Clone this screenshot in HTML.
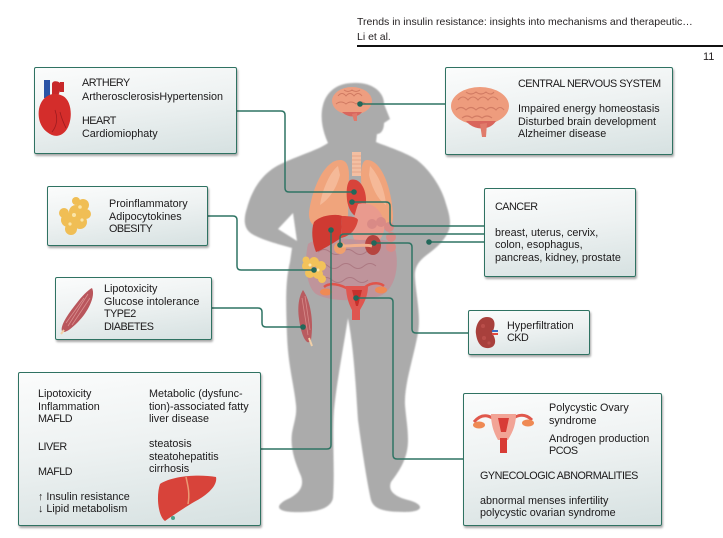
<!DOCTYPE html>
<html><head><meta charset="utf-8">
<style>
html,body{margin:0;padding:0;background:#fff;}
body{width:723px;height:538px;position:relative;overflow:hidden;font-family:"Liberation Sans",Arial,sans-serif;color:#222;}
.box{position:absolute;border:1.5px solid #2f7262;border-radius:2px;background:linear-gradient(172deg,#fbfcfc 0%,#eef2f2 45%,#d6e1e1 100%);box-shadow:1px 2px 2px rgba(0,0,0,0.35);box-sizing:border-box;z-index:2;}
.t{position:absolute;font-size:10.8px;line-height:14px;white-space:nowrap;z-index:4;color:#1c1a1b;}
.u{letter-spacing:-0.5px;}
.h{position:absolute;font-size:10.5px;line-height:12px;white-space:nowrap;color:#231f20;}
svg{position:absolute;left:0;top:0;}
</style></head><body>

<div class="h" style="left:357px;top:16px;">Trends in insulin resistance: insights into mechanisms and therapeutic…</div>
<div class="h" style="left:357px;top:31px;">Li et al.</div>
<div style="position:absolute;left:357px;top:45px;width:366px;height:2px;background:#111;"></div>
<div class="h" style="left:703px;top:51px;font-size:11px;">11</div>

<!-- layer 1: silhouette, organs, connectors -->
<svg width="723" height="538" style="z-index:1">
<defs><filter id="bl"><feGaussianBlur stdDeviation="0.7"/></filter></defs>
<path filter="url(#bl)" fill="#ababab" d="M353 83 C371 82 384 91 384 104 L390 119 L384 123 C384 130 381 134 377 134 L376 142 C385 146 405 152 417 160 C430 170 442 188 446 204 C450 216 452 226 447 234 C443 242 436 248 428 254 C420 260 414 266 415 278 C416 295 421 315 418 333 C413 360 404 385 405 405 C406 418 408 428 408 440 C408 458 400 470 391 482 C388 490 393 496 408 500 C424 504 425 512 405 512 C386 512 374 510 371 500 C367 482 362 450 358 420 C356 390 354 350 348 318 C343 350 337 380 334 410 C332 440 335 470 333 498 C331 508 318 513 292 512 C274 511 276 504 290 498 C301 492 304 485 301 476 C295 462 290 448 292 433 C294 422 297 415 296 405 C294 385 288 365 287 335 C286 305 285 282 290 262 L292 248 C278 244 262 240 252 234 C244 229 243 220 247 208 C252 190 262 172 283 163 C300 155 318 150 328 143 C322 130 320 116 323 105 C327 90 339 83 353 83 Z"/>
<path fill="#ffffff" d="M278 229 L293 213 L297 241 Z" filter="url(#bl)"/>

<!-- brain in head -->
<g>
<ellipse cx="352" cy="101" rx="20" ry="14" fill="#ee9e80"/>
<path d="M338 96 q4 -5 8 0 q4 -5 8 0 q4 -5 8 0 M336 104 q5 -4 10 0 q5 -4 10 0 q5 -4 10 0 M344 90 q4 3 8 0 q4 3 8 0" stroke="#d07a62" stroke-width="1" fill="none"/>
<path d="M342 112 C348 118 358 118 362 112 Z" fill="#d9675e"/>
<path d="M352 114 L354 121 L357 121 L357 113 Z" fill="#e0796b"/>
</g>

<!-- lungs & trachea -->
<rect x="352" y="152" width="9" height="24" fill="#f3bfa2"/>
<path d="M352 156 h9 M352 160 h9 M352 164 h9 M352 168 h9 M352 172 h9" stroke="#e09c80" stroke-width="0.8"/>
<path fill="#f0a47c" d="M340 160 C326 160 313 184 309 212 C308 226 318 232 334 226 L348 216 L349 176 C349 165 346 160 340 160 Z"/>
<path fill="#f7c2a4" d="M338 166 C330 172 322 190 320 205 C328 200 336 190 340 175 Z" opacity="0.7"/>
<path fill="#f0a47c" d="M367 160 C381 160 391 186 393 214 C394 228 386 232 372 226 L362 216 L361 176 C361 166 363 160 367 160 Z"/>
<path fill="#f7c2a4" d="M370 166 C378 174 385 190 386 205 C378 200 372 188 369 175 Z" opacity="0.7"/>
<!-- heart -->
<path fill="#d8433a" d="M350 180 C362 176 370 196 364 212 C358 222 349 214 347 200 C346 190 347 183 350 180 Z"/>
<!-- stomach -->
<path fill="#e99a8e" d="M358 204 C372 200 386 212 384 230 C382 244 368 248 356 242 C350 236 352 222 358 204 Z"/>
<!-- intestines -->
<path fill="#c28f98" opacity="0.85" d="M308 244 C318 236 340 238 360 240 C378 240 392 236 396 252 C399 270 394 290 380 296 C360 302 330 302 316 294 C306 286 304 262 308 244 Z"/>
<path d="M318 252 q6 -5 12 0 q6 5 12 0 q6 -5 12 0 q6 5 12 0 q6 -5 12 0 M316 266 q6 -5 12 0 q6 5 12 0 q6 -5 12 0 q6 5 12 0 q6 -5 12 0 M320 280 q6 -5 12 0 q6 5 12 0 q6 -5 12 0 q6 5 12 0" stroke="#a8727c" stroke-width="1" fill="none" opacity="0.8"/>
<!-- colon bumps -->
<g fill="#d98a86"><circle cx="372" cy="224" r="5"/><circle cx="381" cy="222" r="5"/><circle cx="389" cy="227" r="5"/><circle cx="391" cy="237" r="5"/><circle cx="391" cy="247" r="5"/></g>
<!-- kidney -->
<ellipse cx="373" cy="245" rx="8" ry="10" fill="#b6443f"/>
<!-- liver -->
<path fill="#cf3a32" d="M314 222 C322 214 338 214 342 216 L341 238 C332 244 322 250 316 252 C312 242 311 230 314 222 Z"/>
<path fill="#d8463b" d="M342 216 C350 216 357 217 358 220 C356 230 350 236 341 238 Z"/>
<!-- gallbladder/pancreas -->
<ellipse cx="340" cy="248" rx="6" ry="6" fill="#f0a06c"/>
<path d="M342 246 C355 246 365 244 372 246" stroke="#f2b08c" stroke-width="3" fill="none"/>
<!-- fat -->
<g fill="#f2c25a"><circle cx="307" cy="266" r="5"/><circle cx="314" cy="262" r="5"/><circle cx="321" cy="266" r="5"/><circle cx="310" cy="273" r="5"/><circle cx="318" cy="274" r="5"/><circle cx="322" cy="279" r="4"/><circle cx="306" cy="260" r="3.5"/></g>
<g fill="#fbe6b0"><circle cx="310" cy="265" r="1.5"/><circle cx="318" cy="270" r="1.5"/></g>
<!-- uterus -->
<path d="M324 287 C330 282 340 284 350 290 M384 286 C378 281 368 283 362 290" stroke="#e0544a" stroke-width="2.5" fill="none"/>
<ellipse cx="326" cy="292" rx="6" ry="3.5" fill="#ef8a54"/>
<ellipse cx="381" cy="290" rx="6" ry="3.5" fill="#ef8a54"/>
<path fill="#e05650" d="M346 286 L368 286 C368 298 362 306 360 310 L360 320 L352 320 L352 310 C350 306 346 298 346 286 Z"/>
<path fill="#c8302c" d="M352 290 L362 290 L358 306 L356 306 Z"/>
<!-- muscle in thigh -->
<path fill="#b95b5f" d="M303 290 C310 300 314 320 311 340 C308 346 303 340 300 325 C297 310 298 298 303 290 Z"/>
<path d="M302 298 L308 335 M305 296 L310 330" stroke="#d78a8a" stroke-width="0.8"/>
<path d="M309 338 L312 346" stroke="#f0d0a8" stroke-width="2"/>

<!-- connectors -->
<g stroke="#2f7464" stroke-width="1.5" fill="none">
<path d="M237 111 H281 Q285 111 285 115 V188 Q285 192 289 192 H354"/>
<path d="M360 104 H445"/>
<path d="M208 216 H233 Q237 216 237 220 V266 Q237 270 241 270 H314"/>
<path d="M212 308 H258 Q262 308 262 312 V323 Q262 327 266 327 H303"/>
<path d="M352 202 H386 Q390 202 390 206 V222 Q390 226 394 226 H484"/>
<path d="M340 245 V238 Q340 234 344 234 H484"/>
<path d="M429 242 H484"/>
<path d="M374 243 H408 Q412 243 412 247 V329 Q412 333 416 333 H468"/>
<path d="M331 230 V445 Q331 449 327 449 H261"/>
<path d="M356 298 H389 Q393 298 393 302 V455 Q393 459 397 459 H463"/>
</g>
<g fill="#22685a">
<circle cx="360" cy="104" r="2.8"/><circle cx="354" cy="192" r="2.8"/><circle cx="314" cy="270" r="2.8"/>
<circle cx="303" cy="327" r="2.8"/><circle cx="352" cy="202" r="2.8"/><circle cx="340" cy="245" r="2.8"/>
<circle cx="429" cy="242" r="2.8"/><circle cx="374" cy="243" r="2.8"/><circle cx="331" cy="230" r="2.8"/>
<circle cx="356" cy="298" r="2.8"/>
</g>
</svg>

<!-- boxes -->
<div class="box" style="left:34px;top:67px;width:203px;height:87px;"></div>
<div class="box" style="left:445px;top:67px;width:228px;height:88px;"></div>
<div class="box" style="left:47px;top:186px;width:161px;height:60px;"></div>
<div class="box" style="left:55px;top:277px;width:157px;height:63px;"></div>
<div class="box" style="left:484px;top:188px;width:152px;height:89px;"></div>
<div class="box" style="left:468px;top:310px;width:122px;height:45px;"></div>
<div class="box" style="left:18px;top:372px;width:243px;height:154px;"></div>
<div class="box" style="left:463px;top:393px;width:199px;height:133px;"></div>

<!-- layer 3: icons -->
<svg width="723" height="538" style="z-index:3">
<!-- heart icon -->
<rect x="44" y="80" width="6" height="18" fill="#2b54a6"/>
<path d="M52 84 C52 80 60 80 62 86 L58 96 L52 96 Z" fill="#c8282a"/>
<rect x="60" y="82" width="4" height="10" fill="#c8282a"/>
<path fill="#d42d2b" d="M46 97 C36 104 36 124 47 132 C54 138 62 137 67 129 C73 119 72 101 63 96 C57 93 51 93 46 97 Z"/>
<path d="M55 110 C58 118 57 126 52 132 M60 112 C62 120 64 124 66 128" stroke="#9e1b1f" stroke-width="0.8" fill="none"/>
<!-- brain icon -->
<ellipse cx="480" cy="106" rx="29" ry="19" fill="#ee9c7d"/>
<path d="M458 100 q5 -6 10 0 q5 -6 10 0 q5 -6 10 0 q5 -6 10 0 M456 110 q5 -5 10 0 q5 -5 10 0 q5 -5 10 0 q5 -5 10 0 q4 -5 8 0 M466 92 q5 4 10 0 q5 4 10 0 q5 4 8 0 M462 118 q5 -4 10 0 q5 -4 10 0 q5 -4 10 0" stroke="#d27c64" stroke-width="1.1" fill="none"/>
<path d="M466 121 C474 131 490 131 496 121 Z" fill="#d9655c"/>
<path d="M480 124 L482 137 L486 137 L487 123 Z" fill="#e07b6b"/>
<!-- fat icon -->
<g fill="#f0be55"><circle cx="68" cy="220" r="7"/><circle cx="76" cy="212" r="7"/><circle cx="83" cy="205" r="6"/><circle cx="71" cy="229" r="6"/><circle cx="80" cy="222" r="7"/><circle cx="64" cy="213" r="5"/><circle cx="86" cy="214" r="5"/><circle cx="76" cy="201" r="4"/></g>
<g fill="#fbe5a8"><circle cx="74" cy="215" r="2"/><circle cx="80" cy="207" r="1.8"/><circle cx="70" cy="224" r="1.6"/><circle cx="82" cy="220" r="1.6"/></g>
<!-- muscle icon -->
<path fill="#b9565c" d="M92 288 C96 296 88 312 78 322 C70 330 64 334 62 331 C60 326 68 314 76 304 C82 296 88 290 92 288 Z"/>
<path d="M88 294 L68 326 M84 298 L66 323 M90 298 L72 325" stroke="#d98f8f" stroke-width="0.8"/>
<path d="M64 330 L61 334" stroke="#f2d0a8" stroke-width="2"/>
<!-- kidney icon -->
<path fill="#a8403c" d="M487 317 C478 317 475 328 476 334 C477 342 481 349 489 348 C496 347 497 340 492 333 C496 326 496 317 487 317 Z"/>
<g fill="#c25550" opacity="0.7"><circle cx="483" cy="326" r="2"/><circle cx="484" cy="338" r="2"/><circle cx="489" cy="343" r="1.6"/></g>
<rect x="492" y="330" width="6" height="2" fill="#3d6fc4"/><rect x="492" y="333" width="6" height="2" fill="#e04a40"/>
<!-- uterus icon -->
<path d="M474 422 C484 410 494 418 500 424 M532 420 C522 410 512 418 506 424" stroke="#e0584c" stroke-width="3" fill="none"/>
<ellipse cx="479" cy="425" rx="6" ry="3.5" fill="#ef8a54"/>
<ellipse cx="528" cy="423" rx="6" ry="3.5" fill="#ef8a54"/>
<path fill="#f2a496" d="M491 414 L516 414 C516 428 510 436 508 440 L498 440 C496 436 491 428 491 414 Z"/>
<path fill="#d83c36" d="M498 418 L509 418 L506 432 L501 432 Z"/>
<rect x="500" y="438" width="7" height="15" fill="#d83c36"/>
<!-- liver icon -->
<path fill="#d8433a" d="M160 484 C172 476 198 474 216 477 C218 486 206 496 194 502 C184 508 172 516 165 521 C158 516 156 496 160 484 Z"/>
<path d="M186 477 C188 486 190 494 188 504" stroke="#eb9a74" stroke-width="1.5" fill="none"/>
<circle cx="173" cy="518" r="2" fill="#4aa08a"/>
</svg>

<!-- text -->
<div class="t u" style="left:82px;top:76px;">ARTHERY</div>
<div class="t" style="left:82px;top:90px;">ArtherosclerosisHypertension</div>
<div class="t u" style="left:82px;top:114px;">HEART</div>
<div class="t" style="left:82px;top:127px;">Cardiomiophaty</div>

<div class="t u" style="left:518px;top:77px;">CENTRAL NERVOUS SYSTEM</div>
<div class="t" style="left:518px;top:102px;">Impaired energy homeostasis</div>
<div class="t" style="left:518px;top:115px;">Disturbed brain development</div>
<div class="t" style="left:518px;top:127px;">Alzheimer disease</div>

<div class="t" style="left:109px;top:197px;">Proinflammatory</div>
<div class="t" style="left:109px;top:210px;">Adipocytokines</div>
<div class="t u" style="left:109px;top:222px;">OBESITY</div>

<div class="t" style="left:104px;top:282px;">Lipotoxicity</div>
<div class="t" style="left:104px;top:295px;">Glucose intolerance</div>
<div class="t u" style="left:104px;top:307px;">TYPE2</div>
<div class="t u" style="left:104px;top:320px;">DIABETES</div>

<div class="t u" style="left:495px;top:200px;">CANCER</div>
<div class="t" style="left:495px;top:226px;">breast, uterus, cervix,</div>
<div class="t" style="left:495px;top:238px;">colon, esophagus,</div>
<div class="t" style="left:495px;top:251px;">pancreas, kidney, prostate</div>

<div class="t" style="left:507px;top:319px;">Hyperfiltration</div>
<div class="t u" style="left:507px;top:331px;">CKD</div>

<div class="t" style="left:38px;top:387px;">Lipotoxicity</div>
<div class="t" style="left:38px;top:400px;">Inflammation</div>
<div class="t u" style="left:38px;top:412px;">MAFLD</div>
<div class="t u" style="left:38px;top:440px;">LIVER</div>
<div class="t u" style="left:38px;top:465px;">MAFLD</div>
<div class="t" style="left:38px;top:490px;">↑ Insulin resistance</div>
<div class="t" style="left:38px;top:502px;">↓ Lipid metabolism</div>
<div class="t" style="left:149px;top:387px;">Metabolic (dysfunc-</div>
<div class="t" style="left:149px;top:400px;">tion)-associated fatty</div>
<div class="t" style="left:149px;top:412px;">liver disease</div>
<div class="t" style="left:149px;top:437px;">steatosis</div>
<div class="t" style="left:149px;top:450px;">steatohepatitis</div>
<div class="t" style="left:149px;top:462px;">cirrhosis</div>

<div class="t" style="left:549px;top:401px;">Polycystic Ovary</div>
<div class="t" style="left:549px;top:414px;">syndrome</div>
<div class="t" style="left:549px;top:432px;">Androgen production</div>
<div class="t u" style="left:549px;top:444px;">PCOS</div>
<div class="t u" style="left:480px;top:469px;">GYNECOLOGIC ABNORMALITIES</div>
<div class="t" style="left:480px;top:494px;">abnormal menses infertility</div>
<div class="t" style="left:480px;top:506px;">polycystic ovarian syndrome</div>

</body></html>
